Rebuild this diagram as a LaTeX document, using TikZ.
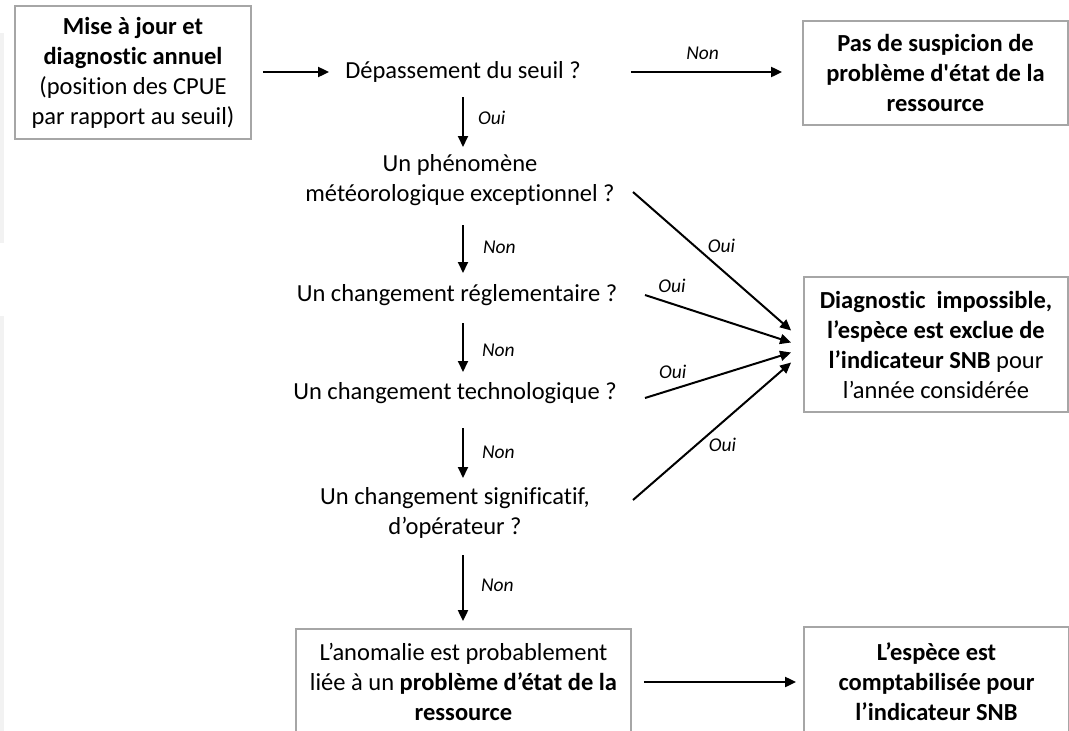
\documentclass[tikz,border=0pt]{standalone}
\usepackage{fontspec}
\setmainfont{Carlito}[Ligatures={TeX,NoCommon}]
\usetikzlibrary{arrows.meta,calc}
\definecolor{boxgray}{HTML}{A6A6A6}
\definecolor{stripgray}{HTML}{F2F2F2}
\newcommand\myBigFont{\fontsize{24.5}{30}\selectfont}
\newcommand\myLabFont{\fontsize{19.5}{23}\selectfont\itshape}
\begin{document}
\begin{tikzpicture}[x=1pt,y=-1pt,
  box/.style={draw=boxgray, line width=1.8pt, align=center, inner sep=0pt, font=\myBigFont},
  q/.style={align=center, inner sep=0pt, font=\myBigFont},
  arr/.style={line width=2pt, -{Triangle[length=11pt,width=10pt]}},
  lab/.style={font=\myLabFont, inner sep=0pt}]
\useasboundingbox (0,0) rectangle (1069,731);
\fill[stripgray] (0,33) rectangle (4,243);
\fill[stripgray] (0,316) rectangle (4,731);
\coordinate (ax) at (463,0);

\node[box, minimum width=236pt, minimum height=133pt] (mise) at (133,72.5)
  {\textbf{Mise à jour et}\\\textbf{diagnostic annuel}\\(position des CPUE\\par rapport au seuil)};
\node[q] (dep) at (463,72) {Dépassement du seuil ?};
\node[box, minimum width=265pt, minimum height=104pt] (pas) at (935.5,73)
  {\textbf{Pas de suspicion de}\\\textbf{problème d\textquotesingle état de la}\\\textbf{ressource}};
\node[q] (phen) at (460,180) {Un phénomène\\météorologique exceptionnel ?};
\node[q] (regl) at (457,295) {Un changement réglementaire ?};
\node[q] (tech) at (455,393) {Un changement technologique ?};
\node[q] (sig) at (455,513) {Un changement significatif,\\d’opérateur ?};
\node[box, minimum width=264pt, minimum height=135pt] (diag) at (936,344.5)
  {\textbf{Diagnostic\ \ impossible,}\\\textbf{l’espèce est exclue de}\\\textbf{l’indicateur SNB} pour\\l’année considérée};
\node[box, minimum width=335pt, minimum height=106pt] (anom) at (463.5,682)
  {L’anomalie est probablement\\liée à un \textbf{problème d’état de la}\\\textbf{ressource}};
\node[box, minimum width=265pt, minimum height=110pt] (compt) at (936.5,682)
  {\textbf{L’espèce est}\\\textbf{comptabilisée pour}\\\textbf{l’indicateur SNB}};

% horizontal arrows
\draw[arr, shorten <=11pt, shorten >=16pt] (mise.east |- dep) -- (dep.west);
\draw[arr, shorten <=50pt, shorten >=20pt] (dep.east) -- (dep.east -| pas.west)
  node[lab, pos=0.55, yshift=19pt] {Non};
\draw[arr, shorten <=12pt, shorten >=7pt] (anom.east) -- (compt.west);

% vertical arrows
\draw[arr] ($(ax|-dep)+(0,25)$) -- ($(ax|-phen)+(0,-33)$)
  node[lab, midway, anchor=west, xshift=14pt, yshift=4pt] {Oui};
\draw[arr] ($(ax|-phen)+(0,45)$) -- ($(ax|-regl)+(0,-22)$)
  node[lab, midway, anchor=west, xshift=19pt, yshift=2pt] {Non};
\draw[arr] ($(ax|-regl)+(0,28)$) -- ($(ax|-tech)+(0,-21)$)
  node[lab, midway, anchor=west, xshift=18pt, yshift=-2.5pt] {Non};
\draw[arr] ($(ax|-tech)+(0,35)$) -- ($(ax|-sig)+(0,-35)$)
  node[lab, midway, anchor=west, xshift=18pt, yshift=1pt] {Non};
\draw[arr, shorten >=7pt] ($(ax|-sig)+(0,42)$) -- (ax|-anom.north)
  node[lab, midway, anchor=west, xshift=17pt, yshift=6pt] {Non};

% diagonal arrows
\draw[arr] ($(phen)+(173,12)$) -- ($(diag.west)+(-12,-14)$)
  node[lab, pos=0.56, yshift=24pt] {Oui};
\draw[arr] ($(regl)+(188,0)$) -- ($(diag.west)+(-12,-2)$)
  node[lab, pos=0.184, yshift=18pt] {Oui};
\draw[arr] ($(tech)+(190,5)$) -- ($(diag.west)+(-12,8)$)
  node[lab, pos=0.19, yshift=18pt] {Oui};
\draw[arr] ($(sig)+(178,-13)$) -- ($(diag.west)+(-12,18)$)
  node[lab, pos=0.566, yshift=-23pt] {Oui};
\end{tikzpicture}
\end{document}
